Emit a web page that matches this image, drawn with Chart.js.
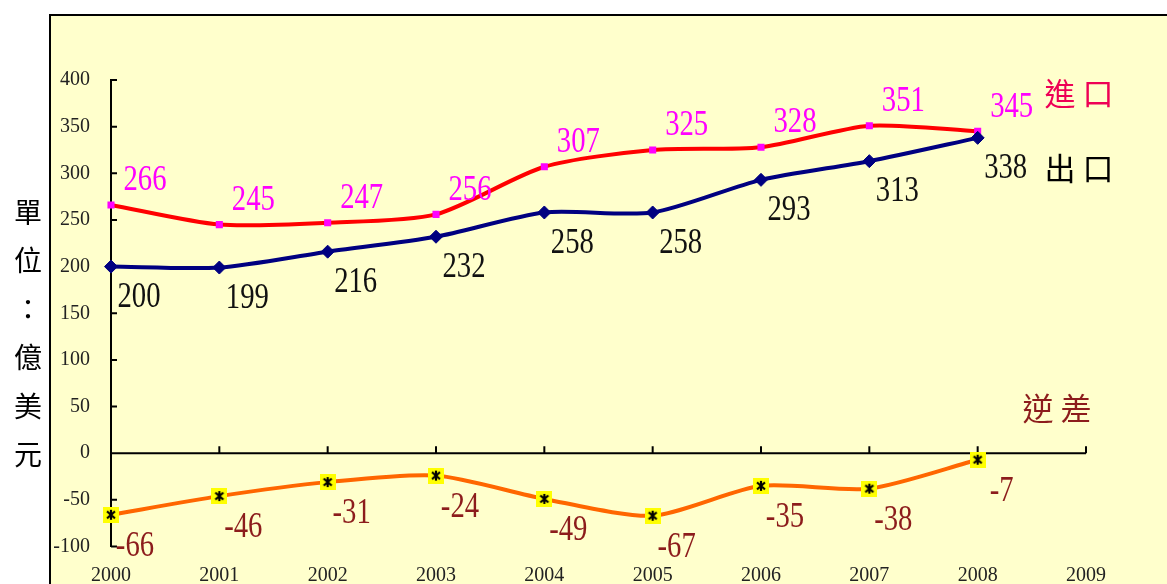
<!DOCTYPE html>
<html>
<head>
<meta charset="utf-8">
<script src="https://cdn.jsdelivr.net/npm/chart.js@4.4.1/dist/chart.umd.min.js"></script>
<style>
  html, body { margin: 0; padding: 0; background: #ffffff; }
  #wrap { width: 1167px; height: 584px; }
</style>
</head>
<body>
<div id="wrap"><canvas id="trade" width="1167" height="584"></canvas></div>
<script>
// données (億美元)
const years = ["2000", "2001", "2002", "2003", "2004", "2005", "2006", "2007", "2008", "2009"]
const exportValues = [200, 199, 216, 232, 258, 258, 293, 313, 338]
const importValues = [266, 245, 247, 256, 307, 325, 328, 351, 345]
const deficitValues = [-66, -46, -31, -24, -49, -67, -35, -38, -7]
const axisTitle = ["單", "位", "：", "億", "美", "元"]

const serif = "'Liberation Serif', 'DejaVu Serif', serif"
const cjk = "'Noto Sans CJK TC', 'Noto Sans CJK SC', sans-serif"

// marqueur jaune avec astérisque noir pour le déficit
function makeStarBox() {
  const c = document.createElement("canvas")
  c.width = 16
  c.height = 16
  const g = c.getContext("2d")
  g.fillStyle = "#ffff00"
  g.fillRect(0, 0, 16, 16)
  g.strokeStyle = "#000000"
  g.lineWidth = 2.2
  g.beginPath()
  g.moveTo(8, 3); g.lineTo(8, 13)
  g.moveTo(4, 4.5); g.lineTo(12, 11.5)
  g.moveTo(12, 4.5); g.lineTo(4, 11.5)
  g.stroke()
  return c
}

// fond jaune et cadre
const panelPlugin = {
  id: "panel",
  beforeDraw(chart) {
    const ctx = chart.ctx
    ctx.save()
    ctx.fillStyle = "#ffffcc"
    ctx.fillRect(50, 15, chart.width - 50, chart.height - 15)
    ctx.strokeStyle = "#000000"
    ctx.lineWidth = 2
    ctx.beginPath()
    ctx.moveTo(50, chart.height)
    ctx.lineTo(50, 15)
    ctx.lineTo(chart.width, 15)
    ctx.stroke()
    ctx.restore()
  }
}

// axe du zéro et graduations intérieures
const axesPlugin = {
  id: "axes",
  beforeDatasetsDraw(chart) {
    const { ctx, scales: { x, y } } = chart
    ctx.save()
    ctx.strokeStyle = "#000000"
    ctx.lineWidth = 2
    const y0 = y.getPixelForValue(0)
    ctx.beginPath()
    ctx.moveTo(x.left, y0)
    ctx.lineTo(x.right, y0)
    years.forEach((_, i) => {
      const px = x.getPixelForValue(i)
      ctx.moveTo(px, y0)
      ctx.lineTo(px, y0 - 7)
    })
    y.ticks.forEach(t => {
      const py = y.getPixelForValue(t.value)
      ctx.moveTo(y.right, py)
      ctx.lineTo(y.right + 6, py)
    })
    ctx.stroke()
    ctx.restore()
  }
}

// étiquettes de valeurs (police serif un peu condensée)
const labelPlugin = {
  id: "valueLabels",
  afterDatasetsDraw(chart) {
    const ctx = chart.ctx
    chart.data.datasets.forEach((ds, di) => {
      const meta = chart.getDatasetMeta(di)
      meta.data.forEach((pt, i) => {
        const v = ds.data[i]
        if (v == null) return
        ctx.save()
        ctx.translate(pt.x + ds.labelDx, pt.y + ds.labelDy)
        ctx.scale(0.82, 1)
        ctx.fillStyle = ds.labelColor
        ctx.font = "35px " + serif
        ctx.textAlign = "center"
        ctx.textBaseline = "middle"
        ctx.fillText(String(v), 0, 0)
        ctx.restore()
      })
    })
  }
}

// titre vertical et noms des séries
const textPlugin = {
  id: "texts",
  afterDraw(chart) {
    const ctx = chart.ctx
    ctx.save()
    ctx.textAlign = "center"
    ctx.textBaseline = "middle"
    ctx.fillStyle = "#000000"
    ctx.font = "28px " + cjk
    axisTitle.forEach((ch, i) => ctx.fillText(ch, 28, 212 + i * 48.5))
    ctx.font = "31px " + cjk
    ctx.fillStyle = "#ee0055"
    ctx.fillText("進 口", 1079, 93)
    ctx.fillStyle = "#000000"
    ctx.fillText("出 口", 1079, 168)
    ctx.fillStyle = "#8c1c1c"
    ctx.fillText("逆 差", 1057, 408)
    ctx.restore()
  }
}

new Chart(document.getElementById("trade"), {
  type: "line",
  data: {
    labels: years,
    datasets: [
      {
        label: "逆差",
        data: deficitValues,
        borderColor: "#ff6600",
        borderWidth: 4,
        pointStyle: makeStarBox(),
        labelColor: "#8c1c1c",
        labelDx: 24,
        labelDy: 32,
      },
      {
        label: "出口",
        data: exportValues,
        borderColor: "#000080",
        borderWidth: 4,
        pointStyle: "rectRot",
        pointRadius: 6.5,
        pointBackgroundColor: "#000080",
        pointBorderColor: "#000080",
        pointBorderWidth: 1,
        labelColor: "#111111",
        labelDx: 28,
        labelDy: 31,
      },
      {
        label: "進口",
        data: importValues,
        borderColor: "#ff0000",
        borderWidth: 4,
        pointStyle: "rect",
        pointRadius: 5,
        pointBackgroundColor: "#ff00ff",
        pointBorderColor: "#ff00ff",
        pointBorderWidth: 0,
        labelColor: "#ff00ff",
        labelDx: 34,
        labelDy: -24,
      },
    ],
  },
  options: {
    responsive: false,
    animation: false,
    devicePixelRatio: 1,
    tension: 0.25,
    layout: { padding: { left: 0, top: 80, right: 81, bottom: 0 } },
    plugins: {
      legend: { display: false },
      tooltip: { enabled: false },
    },
    scales: {
      x: {
        type: "category",
        offset: false,
        grid: { display: false, drawTicks: false, tickLength: 0 },
        border: { display: false },
        ticks: {
          color: "#222222",
          font: { family: serif, size: 20 },
          maxRotation: 0,
          autoSkip: false,
          padding: 17,
        },
        afterFit(scale) { scale.height = 37.5 },
      },
      y: {
        min: -100,
        max: 400,
        grid: { display: false, drawTicks: false, tickLength: 0 },
        border: { display: true, color: "#000000", width: 2 },
        ticks: {
          stepSize: 50,
          color: "#222222",
          font: { family: serif, size: 20 },
          padding: 21,
        },
        afterFit(scale) { scale.width = 111 },
      },
    },
  },
  plugins: [panelPlugin, axesPlugin, labelPlugin, textPlugin],
})
</script>
</body>
</html>
